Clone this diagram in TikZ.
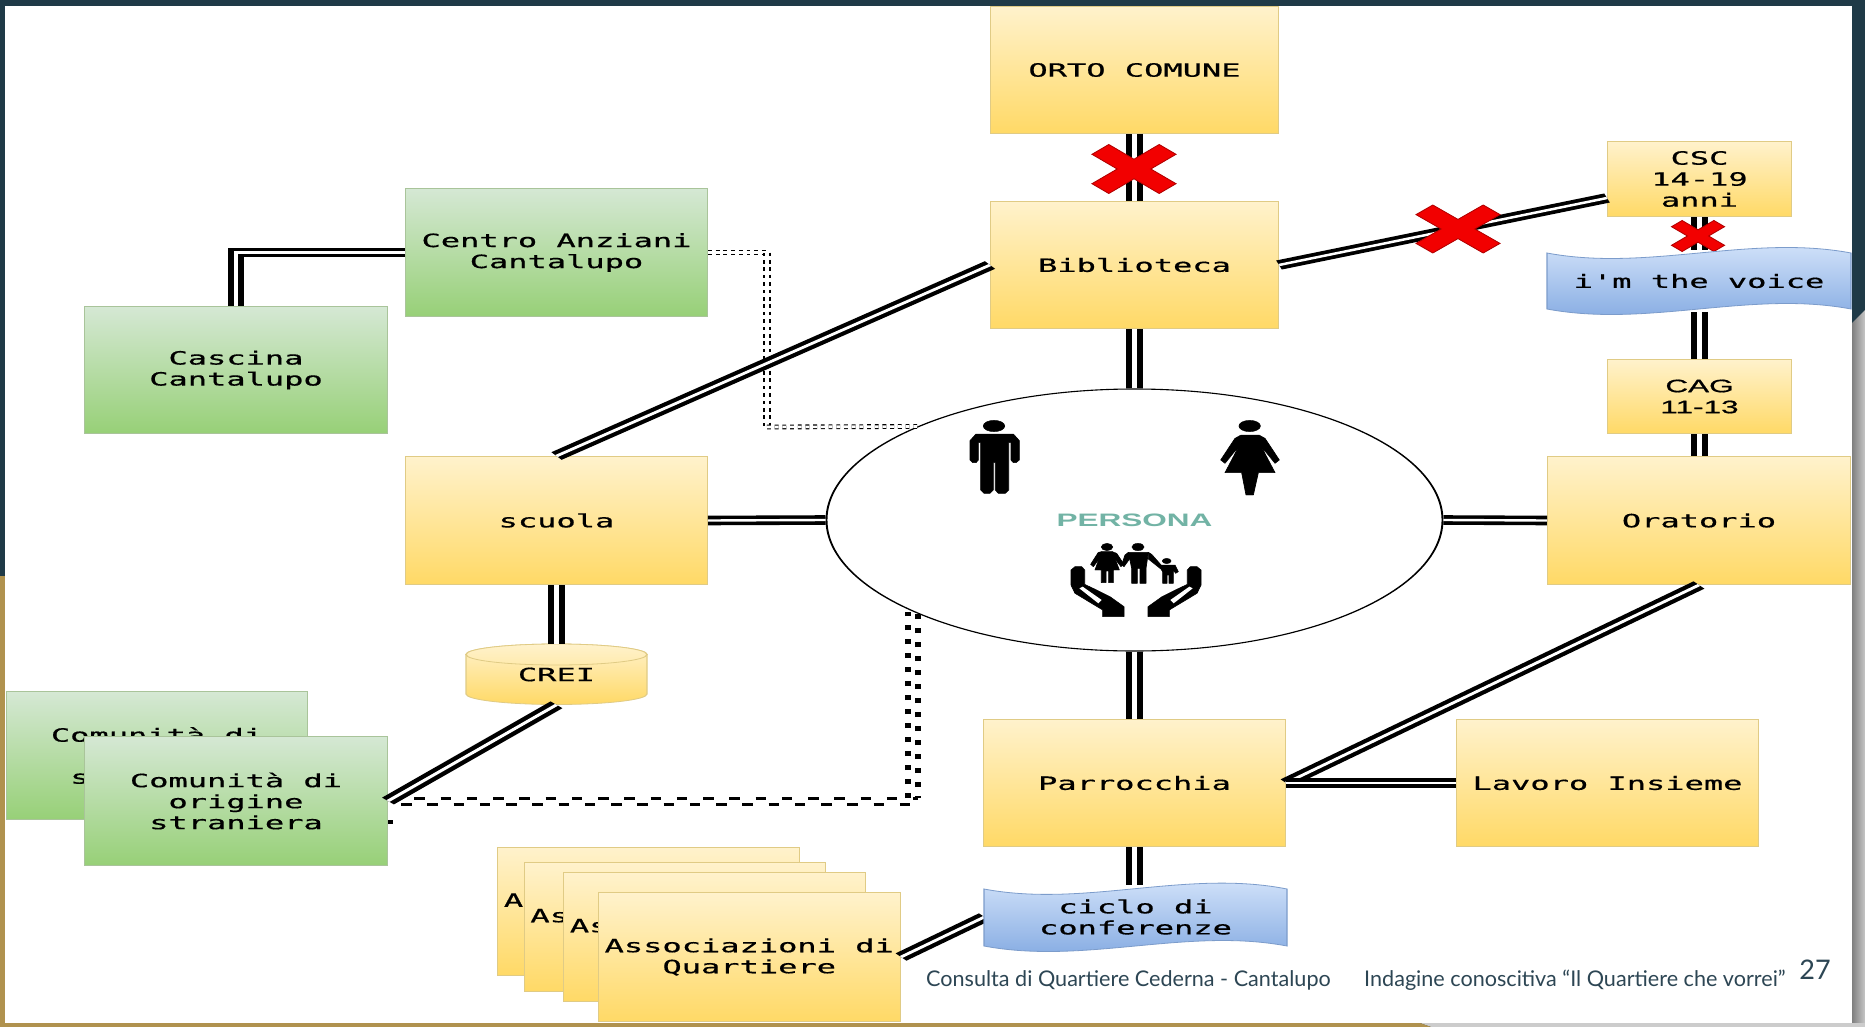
\documentclass[tikz,border=0pt]{standalone}
\usepackage{fontspec}
\usetikzlibrary{shapes.geometric,calc}
\setmainfont{Lato}
\newfontfamily\boxfont[FakeBold=0.5]{DejaVu Sans Mono}
\newfontfamily\armfont{Liberation Sans}
\newfontfamily\cagfont[FakeBold=0.7]{Liberation Sans}
\definecolor{slate}{HTML}{1F3A47}
\definecolor{goldstrip}{HTML}{B0924E}
\definecolor{foot}{HTML}{2D4654}
\definecolor{persona}{HTML}{72B3A5}
\definecolor{ytop}{HTML}{FFF2CC}\definecolor{ybot}{HTML}{FFD966}\definecolor{yedge}{HTML}{E0CB85}
\definecolor{gtop}{HTML}{D5E8D4}\definecolor{gbot}{HTML}{97D077}\definecolor{gedge}{HTML}{A9C49A}
\definecolor{btop}{HTML}{DAE8FC}\definecolor{bbot}{HTML}{7EA6E0}\definecolor{bedge}{HTML}{7C9CCB}
\tikzset{
  boxsz/.style 2 args={minimum width=(#1-1.4)*1pt/1.75,minimum height=(#2-0.8)*1pt},
  basebox/.style={rectangle,inner sep=0pt,line width=.8pt,align=center,text=black,
     font=\fontsize{18.3}{21}\selectfont\boxfont},
  ybox/.style={basebox,draw=yedge,top color=ytop,bottom color=ybot},
  gbox/.style={basebox,draw=gedge,top color=gtop,bottom color=gbot},
  tapeshade/.style={draw=bedge,line width=.8pt,top color=btop,bottom color=bbot},
  tapetext/.style={basebox},
  link/.style={draw=black,line width=3.6pt,double=white,double distance=2.4pt,line join=miter},
  dotlitehor/.style={draw=black,line width=1.1pt,double=white,double distance=2.6pt,dash pattern=on 2.2pt off 2.2pt},
  dotlitever/.style={draw=black,line width=1.1pt,double=white,double distance=2.6pt,dash pattern=on 3.7pt off 3.7pt},
  dotheavyhor/.style={draw=black,line width=3pt,dash pattern=on 6pt off 9pt},
  dotheavyver/.style={draw=black,line width=3.4pt,dash pattern=on 5pt off 9pt},
  crossmark/.style={fill=red!95!black,draw=red!70!black,line width=.7pt,line join=miter},
  icon/.style={fill=black,draw=black,line width=.4pt,line join=round},
}
\newcommand{\xmark}[4]{\draw[crossmark,shift={(#1,#2)},xscale=#3,yscale=#4]
  (0,-.4)--(.6,-1)--(1,-.6)--(.4,0)--(1,.6)--(.6,1)--(0,.4)--(-.6,1)--(-1,.6)--(-.4,0)--(-1,-.6)--(-.6,-1)--cycle;}
\newcommand{\handicon}{%
  \fill[icon] (33,105)--(45,95)--(65,95)--(74,105)--(74,148)--(110,165)--(150,185)--(192,215)--(192,245)--(128,245)--(128,225)--(45,175)--(33,150)--cycle;
  \fill[white] (58,160)--(68,155)--(125,195)--(115,205)--cycle;}
\begin{document}
\begin{tikzpicture}[x=1pt,y=-1pt]
\path[use as bounding box] (0,0) rectangle (1865,1027);
% slide background
\fill[slate] (0,0) rectangle (1865,1027);
\fill[goldstrip] (0,576) rectangle (5,1027);
\shade[left color=black!50,right color=black!22] (1852,323) -- (1865,310) -- (1865,1027) -- (1852,1027) -- cycle;
\fill[black!20] (1420,1023) -- (1865,1023) -- (1865,1027) -- (1431,1027) -- cycle;
\fill[goldstrip] (0,1023) -- (1420,1023) -- (1431,1027) -- (0,1027) -- cycle;
\fill[white] (5,6) rectangle (1852,1023);
\begin{scope}[transform canvas={xscale=1.75},x=0.571429pt,y=-1pt]
% boxes
\node[ybox,boxsz={289}{128}] (orto) at (1134.5,70) {ORTO COMUNE};
\node[ybox,boxsz={289}{128}] (bib) at (1134.5,265) {Biblioteca};
\node[ybox,boxsz={185}{76}] (csc) at (1699.5,179) {CSC\\14-19\\anni};
\node[ybox,boxsz={185}{75},font=\fontsize{18}{21}\selectfont\cagfont] (cag) at (1699.5,396.5) {CAG\\11-13};
\node[ybox,boxsz={304}{129}] (orat) at (1699,520.5) {Oratorio};
\node[gbox,boxsz={303}{129}] (centro) at (556.5,252.5) {Centro Anziani\\Cantalupo};
\node[gbox,boxsz={304}{128}] (cascina) at (236,370) {Cascina\\Cantalupo};
\node[ybox,boxsz={303}{129}] (scuola) at (556.5,520.5) {scuola};
\node[ybox,boxsz={303}{128}] (parr) at (1134.5,783) {Parrocchia};
\node[ybox,boxsz={303}{128}] (lavoro) at (1607.5,783) {Lavoro Insieme};
\node[gbox,boxsz={302}{129}] (comback) at (157,755.5) {Comunità di\\origine\\straniera};
\node[gbox,boxsz={304}{130}] (comfront) at (236,801) {Comunità di\\origine\\straniera};
\node[ybox,boxsz={303}{129}] (assa) at (648.5,911.5) {Associazioni di\\Quartiere};
\node[ybox,boxsz={302}{130}] (assb) at (675,927) {Associazioni di\\Quartiere};
\node[ybox,boxsz={303}{130}] (assc) at (714.5,937) {Associazioni di\\Quartiere};
\node[ybox,boxsz={303.5}{130}] (assd) at (749.25,957) {Associazioni di\\Quartiere};
% cylinder CREI
\shade[top color=ytop,bottom color=ybot,draw=yedge,line width=.8pt]
  (466,654.5) arc[start angle=180,end angle=360,x radius=90.5,y radius=10.5]
  -- (647,694) arc[start angle=0,end angle=180,x radius=90.5,y radius=10.5] -- cycle;
\shade[top color=ytop,bottom color=ytop!70!ybot,draw=yedge,line width=.8pt]
  (556.5,654.5) ellipse[x radius=90.5,y radius=10.5];
\node[basebox] (crei) at (556.5,674.5) {CREI};
\node[rectangle,inner sep=0pt,boxsz={181}{61}] (creiframe) at (556.5,674.5) {};
% person ellipse
\node[ellipse,draw=black,fill=white,line width=1.1pt,inner sep=0pt,
      minimum width=352pt,minimum height=262pt,text=persona,
      font=\fontsize{18}{21}\selectfont\armfont\bfseries] (pers) at (1134.5,520) {PERSONA};
% tape anchors
\node[rectangle,inner sep=0pt,boxsz={304}{62}] (voice) at (1699,281) {};
\node[rectangle,inner sep=0pt,boxsz={303}{64}] (ciclo) at (1135.5,917) {};
% connectors
\coordinate (litecorner) at (767,427);
\draw[dotlitehor] (centro.east) -- (centro.east -| litecorner);
\draw[dotlitever] (centro.east -| litecorner) -- (litecorner);
\draw[dotlitehor] (litecorner) -- (pers.143.3);
\coordinate (heavycorner) at (pers.216.7 |- comfront.east);
\draw[dotheavyhor] ($(comfront.east)+(0,-3)$) -- ($(heavycorner)+(5,-3)$);
\draw[dotheavyhor,dash phase=7.5pt] ($(comfront.east)+(0,3)$) -- ($(heavycorner)+(5,3)$);
\draw[dotheavyver] ($(heavycorner)+(-5,-3)$) -- ($(pers.216.7)+(-5,0)$);
\draw[dotheavyver,dash phase=3pt] ($(heavycorner)+(5,-3)$) -- ($(pers.216.7)+(5,0)$);
\fill (388,820) rectangle (393,824);
\draw[link] (centro.west) -| (cascina.north);
\draw[link] (scuola.north) -- (bib.west);
\draw[link] (orto.south) -- (bib.north);
\draw[link] (bib.east) -- ($(csc.west)+(0,19)$);
\draw[link] (bib.south) -- (pers.north);
\draw[link] (csc.south) -- (csc.south |- voice.north);
\draw[link] (csc.south |- voice.south) -- (cag.north);
\draw[link] (cag.south) -- (cag.south |- orat.north);
\draw[link] (scuola.east) -- (pers.west);
\draw[link] (pers.east) -- (orat.west);
\draw[link] (pers.south) -- (parr.north);
\draw[link] (scuola.south) -- (creiframe.north);
\draw[link] (creiframe.south) -- (comfront.east);
\draw[link] (orat.south) -- (parr.east);
\draw[link] (parr.east) -- (lavoro.west);
\draw[link] (parr.south) -- (parr.south |- ciclo.north);
\draw[link] (assd.east) -- (ciclo.west);
% crosses
\xmark{1134}{169}{42}{24.5}
\xmark{1458}{229}{42}{24}
\xmark{1698}{236}{26.5}{15.5}
% tapes
\shade[tapeshade] (1547,253) .. controls (1648,272) and (1750,234) .. (1851,253)
  -- (1851,309) .. controls (1750,290) and (1648,328) .. (1547,309) -- cycle;
\node[tapetext] (voicetxt) at (1699,281) {i'm the voice};
\shade[tapeshade] (984,889) .. controls (1085,908) and (1186,869) .. (1287,889)
  -- (1287,946) .. controls (1186,927) and (1085,965) .. (984,946) -- cycle;
\node[tapetext] (ciclotxt) at (1135.5,917) {ciclo di\\conferenze};
% man icon
\begin{scope}[shift={(960,410)},x=0.190476pt,y=-0.333333pt]
\fill[icon] (102,48) ellipse[x radius=32,y radius=17];
\fill[icon] (30,92)--(48,72)--(160,72)--(178,92)--(178,150)--(168,158)--(160,158)--(153,150)--(153,98)--(146,98)--(146,240)--(136,250)--(115,250)--(106,240)--(106,158)--(100,158)--(100,240)--(90,250)--(72,250)--(62,240)--(62,98)--(55,98)--(55,150)--(48,158)--(38,158)--(30,150)--cycle;
% woman icon
\fill[icon] (869,48) ellipse[x radius=32,y radius=17];
\fill[icon] (843,75)--(897,75)--(915,85)--(958,150)--(945,160)--(903,108)--(945,188)--(895,188)--(880,255)--(858,255)--(845,188)--(795,188)--(837,108)--(795,160)--(782,150)--(825,85)--cycle;
\end{scope}
% family and hands icon
\begin{scope}[shift={(1060,535)},x=0.190476pt,y=-0.333333pt]
\fill[icon] (141,36) ellipse[x radius=17,y radius=11];
\fill[icon] (125,50)--(157,50)--(178,105)--(160,105)--(160,143)--(146,143)--(146,108)--(138,108)--(138,143)--(124,143)--(124,105)--(105,105)--cycle;
\fill[icon] (125,50)--(115,52)--(92,88)--(100,95)--(125,62)--cycle;
\fill[icon] (157,50)--(170,55)--(190,85)--(183,95)--(157,62)--cycle;
\fill[icon] (234,36) ellipse[x radius=18,y radius=11];
\fill[icon] (205,52)--(265,52)--(258,100)--(258,145)--(240,145)--(240,100)--(232,100)--(232,145)--(215,145)--(215,100)--cycle;
\fill[icon] (205,52)--(195,60)--(185,90)--(192,95)--(210,70)--cycle;
\fill[icon] (265,52)--(275,58)--(305,92)--(300,100)--(265,72)--cycle;
\fill[icon] (320,78) ellipse[x radius=13,y radius=8];
\fill[icon] (305,90)--(345,90)--(355,110)--(347,115)--(340,105)--(340,145)--(327,145)--(327,120)--(321,120)--(321,145)--(308,145)--(308,110)--(300,98)--cycle;
\handicon
\begin{scope}[shift={(456,0)},xscale=-1]
\handicon
\end{scope}
\end{scope}
\end{scope}
% footer
\node[anchor=base west,inner sep=0pt,text=foot,font=\fontsize{21.6}{25}\selectfont] (footl) at (926,986) {Consulta di Quartiere Cederna - Cantalupo};
\node[anchor=base west,inner sep=0pt,text=foot,font=\fontsize{21.6}{25}\selectfont] (footr) at (1364,986) {Indagine conoscitiva “Il Quartiere che vorrei”};
\node[anchor=base,inner sep=0pt,text=foot,font=\fontsize{27}{30}\selectfont] (pageno) at (1815,979) {27};
\end{tikzpicture}
\end{document}
